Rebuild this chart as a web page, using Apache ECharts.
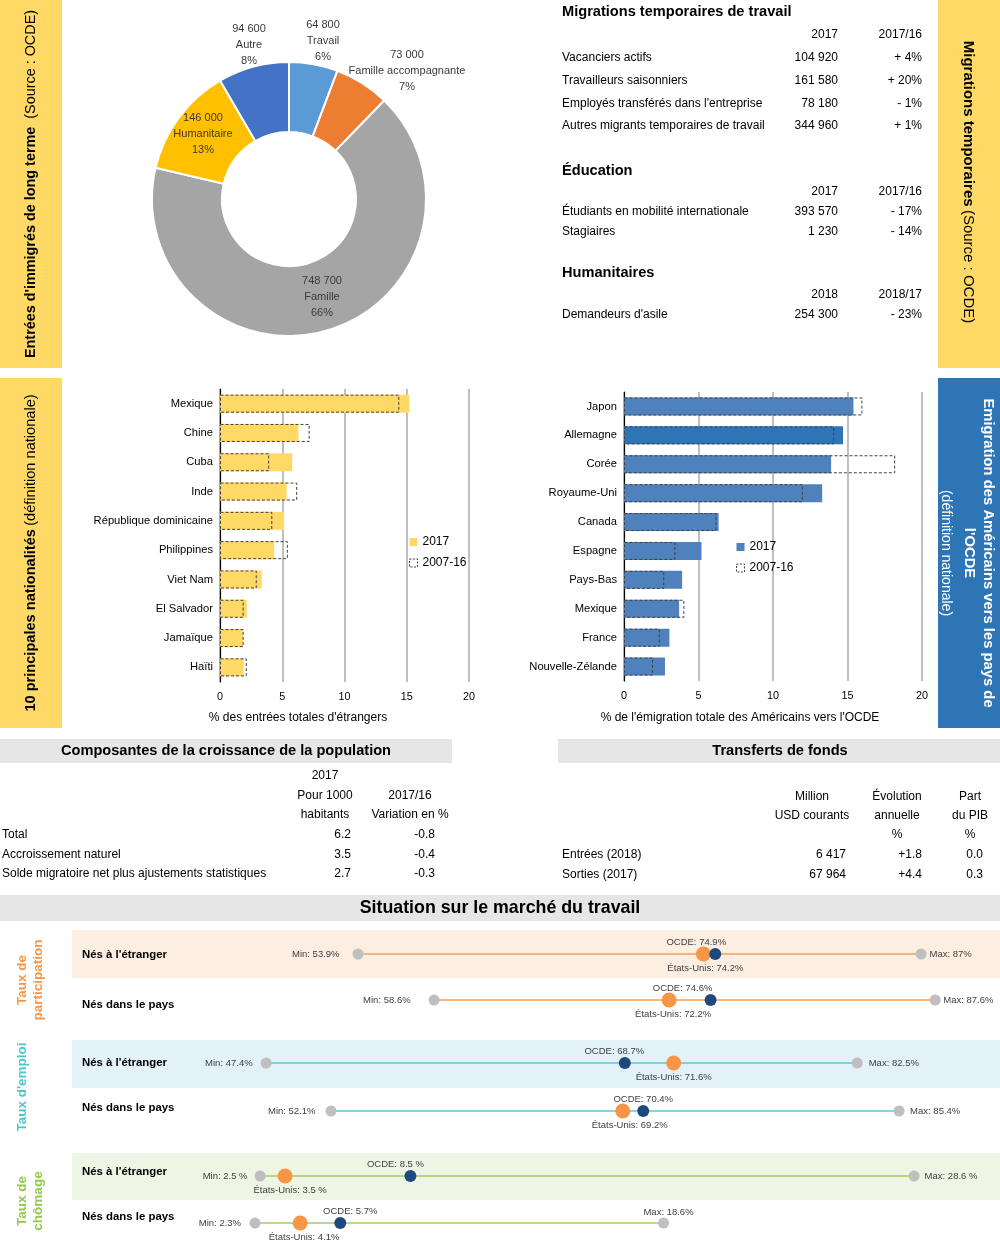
<!DOCTYPE html>
<html><head><meta charset="utf-8">
<script src="https://cdn.jsdelivr.net/npm/echarts/dist/echarts.min.js"></script>
<style>html,body{margin:0;padding:0;background:#fff}#c{width:1000px;height:1243px}</style>
</head><body><div id="c"></div>
<script>
// ---------------- DATA ----------------
const pieNames = ['Travail', 'Famille accompagnante', 'Famille', 'Humanitaire', 'Autre'];
const pieValues = [64800, 73000, 748700, 146000, 94600];
const piePct = ['6%', '7%', '66%', '13%', '8%'];

const natCategories = ['Mexique', 'Chine', 'Cuba', 'Inde', 'République dominicaine', 'Philippines', 'Viet Nam', 'El Salvador', 'Jamaïque', 'Haïti'];
const nat2017 = [15.2, 6.3, 5.8, 5.35, 5.15, 4.35, 3.35, 2.15, 1.85, 1.9];
const nat0716 = [14.4, 7.2, 3.95, 6.2, 4.2, 5.45, 2.95, 1.9, 1.9, 2.15];

const emiCategories = ['Japon', 'Allemagne', 'Corée', 'Royaume-Uni', 'Canada', 'Espagne', 'Pays-Bas', 'Mexique', 'France', 'Nouvelle-Zélande'];
const emi2017 = [15.4, 14.7, 13.9, 13.3, 6.35, 5.2, 3.9, 3.7, 3.05, 2.75];
const emi0716 = [16.0, 14.1, 18.2, 12.0, 6.2, 3.45, 2.7, 4.05, 2.4, 1.95];

const tempWorkLabels = ['Vacanciers actifs', 'Travailleurs saisonniers', "Employés transférés dans l'entreprise", 'Autres migrants temporaires de travail'];
const tempWork2017 = ['104 920', '161 580', '78 180', '344 960'];
const tempWorkChg = ['+ 4%', '+ 20%', '- 1%', '+ 1%'];
const eduLabels = ['Étudiants en mobilité internationale', 'Stagiaires'];
const edu2017 = ['393 570', '1 230'];
const eduChg = ['- 17%', '- 14%'];
const humLabels = ["Demandeurs d'asile"];
const hum2018 = ['254 300'];
const humChg = ['- 23%'];

const popLabels = ['Total', 'Accroissement naturel', 'Solde migratoire net plus ajustements statistiques'];
const popPer1000 = ['6.2', '3.5', '2.7'];
const popChange = ['-0.8', '-0.4', '-0.3'];

const remLabels = ['Entrées (2018)', 'Sorties (2017)'];
const remUSD = ['6 417', '67 964'];
const remGrowth = ['+1.8', '+4.4'];
const remGDP = ['0.0', '0.3'];

const lmRowLabels = ["Nés à l'étranger", 'Nés dans le pays', "Nés à l'étranger", 'Nés dans le pays', "Nés à l'étranger", 'Nés dans le pays'];
const lmMin = [53.9, 58.6, 47.4, 52.1, 2.5, 2.3];
const lmMax = [87, 87.6, 82.5, 85.4, 28.6, 18.6];
const lmUS = [74.2, 72.2, 71.6, 69.2, 3.5, 4.1];
const lmOECD = [74.9, 74.6, 68.7, 70.4, 8.5, 5.7];
const lmSuffix = ['%', '%', '%', '%', ' %', '%'];

// ---------------- FONTS ----------------
function hasFont(name) {
  const c = document.createElement('canvas').getContext('2d');
  const s = 'abcdefghijklmnopqrstuvwxyzABCDEFG0123456789';
  let diff = false;
  ['monospace', 'serif'].forEach(b => {
    c.font = '40px ' + b; const w1 = c.measureText(s).width;
    c.font = "40px '" + name + "', " + b; const w2 = c.measureText(s).width;
    if (w1 !== w2) diff = true;
  });
  return diff;
}
let F, S = 1;
if (hasFont('Liberation Sans Narrow')) F = "'Liberation Sans Narrow', sans-serif";
else if (hasFont('Arial Narrow')) F = "'Arial Narrow', sans-serif";
else { F = "'Liberation Sans', Arial, sans-serif"; S = 0.86; }
const W = "'Liberation Sans', Arial, sans-serif";
const sz = n => Math.round(n * S * 10) / 10;

// ---------------- LAYOUT HELPERS ----------------
const G = [];
function rect(x, y, w, h, fill, z) { G.push({ type: 'rect', z: z || 0, shape: { x: x, y: y, width: w, height: h }, style: { fill: fill } }); }
function txt(x, y, text, o) {
  o = o || {};
  const st = { text: text, fill: o.color || '#000', fontSize: o.size || sz(14), fontFamily: o.family || F,
    fontWeight: o.bold ? 'bold' : 'normal', align: o.align || 'left', verticalAlign: 'middle' };
  if (o.lh) st.lineHeight = o.lh;
  if (o.rich) st.rich = o.rich;
  G.push({ type: 'text', x: x, y: y, z: 10, rotation: o.rot || 0, style: st });
}
const fmt = n => String(n).replace(/\B(?=(\d{3})+(?!\d))/g, ' ');

// side bars
const YEL = '#FFD966';
rect(0, 0, 62, 368, YEL); rect(938, 0, 62, 368, YEL);
rect(0, 378, 62, 350, YEL); rect(938, 378, 62, 350, '#2E75B6');
const sideRich = (c, s) => ({ b: { fontFamily: W, fontWeight: 'bold', fontSize: s, fill: c }, n: { fontFamily: W, fontSize: s, fill: c } });
txt(31, 184, "{b|Entrées d'immigrés de long terme}{n|  (Source : OCDE)}", { align: 'center', rot: Math.PI / 2, rich: sideRich('#000', 14.4), family: W });
txt(968, 182, '{b|Migrations temporaires} {n|(Source : OCDE)}', { align: 'center', rot: -Math.PI / 2, rich: sideRich('#000', 15), family: W });
txt(31, 553, '{b|10 principales nationalités} {n|(définition nationale)}', { align: 'center', rot: Math.PI / 2, rich: sideRich('#000', 14.6), family: W });
txt(988, 553, 'Emigration des Américains vers les pays de', { align: 'center', rot: -Math.PI / 2, color: '#fff', bold: true, size: 14.8, family: W });
txt(969, 553, "l'OCDE", { align: 'center', rot: -Math.PI / 2, color: '#fff', bold: true, size: 14.8, family: W });
txt(946, 553, '(définition nationale)', { align: 'center', rot: -Math.PI / 2, color: '#fff', size: 14, family: W });

// top-right table
const TX = 562, C1 = 838, C2 = 922;
const H1 = sz(17);
txt(TX, 12, 'Migrations temporaires de travail', { bold: true, size: H1 });
txt(C1, 35, '2017', { align: 'right' }); txt(C2, 35, '2017/16', { align: 'right' });
tempWorkLabels.forEach((l, i) => { const y = 58 + i * 22.7; txt(TX, y, l); txt(C1, y, tempWork2017[i], { align: 'right' }); txt(C2, y, tempWorkChg[i], { align: 'right' }); });
txt(TX, 171, 'Éducation', { bold: true, size: H1 });
txt(C1, 192, '2017', { align: 'right' }); txt(C2, 192, '2017/16', { align: 'right' });
eduLabels.forEach((l, i) => { const y = 212 + i * 20; txt(TX, y, l); txt(C1, y, edu2017[i], { align: 'right' }); txt(C2, y, eduChg[i], { align: 'right' }); });
txt(TX, 273, 'Humanitaires', { bold: true, size: H1 });
txt(C1, 295, '2018', { align: 'right' }); txt(C2, 295, '2018/17', { align: 'right' });
humLabels.forEach((l, i) => { const y = 315; txt(TX, y, l); txt(C1, y, hum2018[i], { align: 'right' }); txt(C2, y, humChg[i], { align: 'right' }); });

// axis names of bar charts
txt(298, 718, "% des entrées totales d'étrangers", { align: 'center' });
txt(740, 718, "% de l'émigration totale des Américains vers l'OCDE", { align: 'center' });

// population table
const GREY = '#E7E6E6';
rect(0, 739, 452, 24, GREY);
txt(226, 751, 'Composantes de la croissance de la population', { bold: true, size: sz(17), align: 'center' });
txt(325, 776, '2017', { align: 'center' });
txt(325, 796, 'Pour 1000', { align: 'center' }); txt(325, 815, 'habitants', { align: 'center' });
txt(410, 796, '2017/16', { align: 'center' }); txt(410, 815, 'Variation en %', { align: 'center' });
popLabels.forEach((l, i) => { const y = 835 + i * 19.5; txt(2, y, l); txt(351, y, popPer1000[i], { align: 'right' }); txt(435, y, popChange[i], { align: 'right' }); });

// remittances table
rect(558, 739, 442, 24, GREY);
txt(780, 751, 'Transferts de fonds', { bold: true, size: sz(17), align: 'center' });
txt(812, 797, 'Million', { align: 'center' }); txt(812, 816, 'USD courants', { align: 'center' });
txt(897, 797, 'Évolution', { align: 'center' }); txt(897, 816, 'annuelle', { align: 'center' }); txt(897, 835, '%', { align: 'center' });
txt(970, 797, 'Part', { align: 'center' }); txt(970, 816, 'du PIB', { align: 'center' }); txt(970, 835, '%', { align: 'center' });
remLabels.forEach((l, i) => { const y = 855 + i * 19.5; txt(562, y, l); txt(846, y, remUSD[i], { align: 'right' }); txt(922, y, remGrowth[i], { align: 'right' }); txt(983, y, remGDP[i], { align: 'right' }); });

// labour market header
rect(0, 895, 1000, 26, GREY);
txt(500, 908, 'Situation sur le marché du travail', { bold: true, size: sz(20.7), align: 'center' });
rect(72, 930, 928, 48, '#FDEEE2');
rect(72, 1040, 928, 48, '#E3F2F8');
rect(72, 1153, 928, 47, '#EFF5E5');
txt(30, 980, 'Taux de\nparticipation', { align: 'center', rot: Math.PI / 2, color: '#F79646', bold: true, size: 13.5, family: W, lh: 16 });
txt(22, 1087, "Taux d'emploi", { align: 'center', rot: Math.PI / 2, color: '#4BC6CD', bold: true, size: 13.5, family: W });
txt(30, 1201, 'Taux de\nchômage', { align: 'center', rot: Math.PI / 2, color: '#92C84C', bold: true, size: 13.5, family: W, lh: 16 });
const rowLabelY = [955, 1005, 1063, 1108, 1172, 1217];
lmRowLabels.forEach((l, i) => txt(82, rowLabelY[i], l, { bold: true, size: sz(13.2) }));

// ---------------- CHART OPTION ----------------
const grids = [
  { left: 220, top: 389, width: 249, height: 293 },
  { left: 624, top: 392, width: 298, height: 289 }
];
const axLabel = { fontFamily: F, color: '#000' };
const xAxes = [
  { type: 'value', gridIndex: 0, min: 0, max: 20, interval: 5, axisLine: { show: false }, axisTick: { show: false },
    splitLine: { show: true, lineStyle: { color: '#BFBFBF', width: 2 } }, axisLabel: Object.assign({ fontSize: sz(12.5), margin: 10 }, axLabel) },
  { type: 'value', gridIndex: 1, min: 0, max: 20, interval: 5, axisLine: { show: false }, axisTick: { show: false },
    splitLine: { show: true, lineStyle: { color: '#BFBFBF', width: 2 } }, axisLabel: Object.assign({ fontSize: sz(12.5), margin: 10 }, axLabel) }
];
const yAxes = [
  { type: 'category', gridIndex: 0, inverse: true, data: natCategories, axisLine: { show: true, lineStyle: { color: '#000', width: 1.2 } }, axisTick: { show: false },
    axisLabel: Object.assign({ fontSize: sz(13), margin: 7 }, axLabel) },
  { type: 'category', gridIndex: 1, inverse: true, data: emiCategories, axisLine: { show: true, lineStyle: { color: '#000', width: 1.2 } }, axisTick: { show: false },
    axisLabel: Object.assign({ fontSize: sz(13), margin: 7 }, axLabel) }
];
const dashStyle = { color: 'rgba(0,0,0,0)', borderColor: '#404040', borderWidth: 1, borderType: [3, 2] };
const series = [
  { name: '2017', type: 'bar', xAxisIndex: 0, yAxisIndex: 0, data: nat2017, barWidth: 18, barGap: '-100%', itemStyle: { color: YEL }, z: 2 },
  { name: '2007-16', type: 'bar', xAxisIndex: 0, yAxisIndex: 0, data: nat0716, barWidth: 18, barGap: '-100%', itemStyle: dashStyle, z: 3 },
  { name: '2017 ', type: 'bar', xAxisIndex: 1, yAxisIndex: 1, barWidth: 18, barGap: '-100%', itemStyle: { color: '#4F81BD' }, z: 2,
    data: emi2017.map((v, i) => emiCategories[i] === 'Allemagne' ? { value: v, itemStyle: { color: '#2E75B6' } } : v) },
  { name: '2007-16 ', type: 'bar', xAxisIndex: 1, yAxisIndex: 1, data: emi0716, barWidth: 18, barGap: '-100%', itemStyle: dashStyle, z: 3 },
  { type: 'pie', center: [289, 199], radius: [67, 137], startAngle: 90, clockwise: true, silent: true,
    itemStyle: { borderColor: '#fff', borderWidth: 2 },
    data: pieNames.map((n, i) => ({ name: n, value: pieValues[i], itemStyle: { color: ['#5B9BD5', '#ED7D31', '#A5A5A5', '#FFC000', '#4472C4'][i] } })),
    label: { show: true, position: 'inside', fontFamily: F, fontSize: sz(12.8), lineHeight: 16, color: '#3A3A3A',
      formatter: p => fmt(p.value) + '\n' + p.name + '\n' + piePct[p.dataIndex] },
    labelLine: { show: false },
    labelLayout: p => { const q = [[323, 41], [407, 71], [322, 297], [203, 134], [249, 45]][p.dataIndex]; return { x: q[0], y: q[1], align: 'center', verticalAlign: 'middle' }; }
  }
];

// labour market dot rows
const rowY = [954, 1000, 1063, 1111, 1176, 1223];
const rowScale = [[-558.8, 17.01], [-578.5, 17.28], [-532.1, 16.84], [-557.8, 17.06], [197.4, 25.06], [197.4, 25.06]];
const rowLineColor = ['#F7A04B', '#F7A04B', '#5AC8D0', '#5AC8D0', '#A3CD5E', '#A3CD5E'];
const minDist = [13, 18, 8, 10, 7, 8.5];
const maxDist = [3, 2.5, 6, 5.5, 5, 0.5];
const ocdeOff = [-19, -28, -10.5, 0, -15, 10];
const usOff = [2, 4, 0, 7, 5, 4];
const dotLabel = { fontFamily: F, fontSize: sz(11), color: '#404040' };
for (let i = 0; i < 6; i++) {
  const gi = i + 2;
  grids.push({ left: 0, right: 0, top: rowY[i] - 10, height: 20 });
  const x0 = rowScale[i][0], k = rowScale[i][1];
  xAxes.push({ type: 'value', gridIndex: gi, min: -x0 / k, max: (1000 - x0) / k, show: false });
  yAxes.push({ type: 'category', gridIndex: gi, data: ['r'], show: false });
  const ax = { xAxisIndex: gi, yAxisIndex: gi, silent: true };
  const suf = lmSuffix[i];
  series.push(Object.assign({ type: 'line', data: [[lmMin[i], 'r'], [lmMax[i], 'r']], symbol: 'none', lineStyle: { color: rowLineColor[i], width: 1.6 }, z: 2 }, ax));
  series.push(Object.assign({ type: 'scatter', symbolSize: 11, itemStyle: { color: '#BFBFBF', opacity: 1 }, z: 3,
    data: [
      { value: [lmMin[i], 'r'], label: Object.assign({ show: true, position: 'left', distance: minDist[i], formatter: 'Min: ' + lmMin[i] + suf }, dotLabel) },
      { value: [lmMax[i], 'r'], label: Object.assign({ show: true, position: i === 5 ? 'top' : 'right', distance: maxDist[i], offset: i === 5 ? [5, 0] : [0, 0], formatter: 'Max: ' + lmMax[i] + suf }, dotLabel) }
    ] }, ax));
  series.push(Object.assign({ type: 'scatter', symbolSize: 15, itemStyle: { color: '#F79646', opacity: 1 }, z: 4,
    data: [{ value: [lmUS[i], 'r'], label: Object.assign({ show: true, position: 'bottom', distance: 1.5, offset: [usOff[i], 0], formatter: 'États-Unis: ' + lmUS[i] + suf }, dotLabel) }] }, ax));
  series.push(Object.assign({ type: 'scatter', symbolSize: 12, itemStyle: { color: '#1F497D', opacity: 1 }, z: 5,
    data: [{ value: [lmOECD[i], 'r'], label: Object.assign({ show: true, position: 'top', distance: 0.5, offset: [ocdeOff[i], 0], formatter: 'OCDE: ' + lmOECD[i] + suf }, dotLabel) }] }, ax));
}

const legendBase = { orient: 'vertical', icon: 'rect', itemWidth: 8, itemHeight: 8, itemGap: 9, selectedMode: false,
  textStyle: { fontFamily: F, fontSize: sz(14), color: '#000' } };
const dashIcon = { color: 'rgba(0,0,0,0)', borderColor: '#404040', borderWidth: 1, borderType: [2, 1.5] };
const option = {
  animation: false,
  textStyle: { fontFamily: F },
  grid: grids, xAxis: xAxes, yAxis: yAxes, series: series,
  legend: [
    Object.assign({ left: 404, top: 531, data: ['2017', { name: '2007-16', itemStyle: dashIcon }] }, legendBase),
    Object.assign({ left: 731, top: 536, data: ['2017 ', { name: '2007-16 ', itemStyle: dashIcon }] }, legendBase)
  ],
  graphic: { elements: G }
};
const chart = echarts.init(document.getElementById('c'), null, { renderer: 'canvas' });
chart.setOption(option);
</script></body></html>
